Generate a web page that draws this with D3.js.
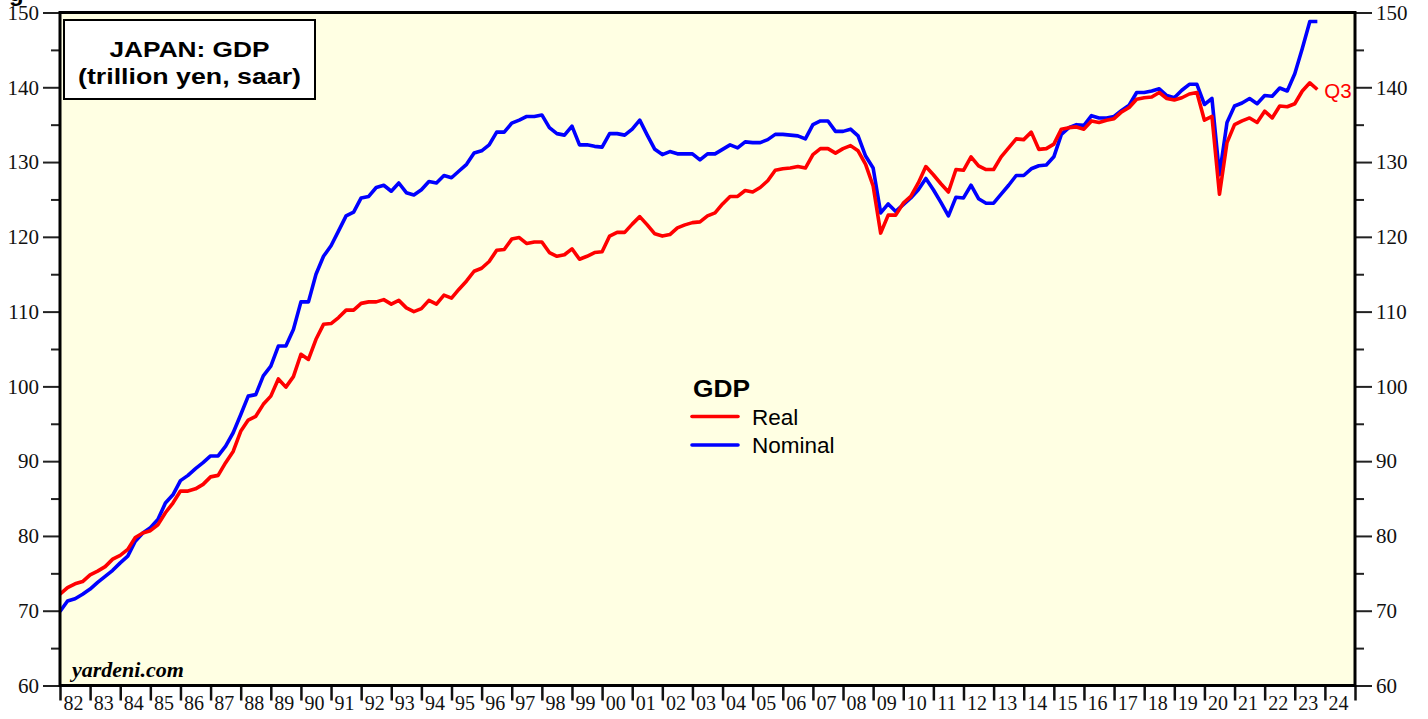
<!DOCTYPE html>
<html lang="en">
<head>
  <meta charset="UTF-8">
  <title>Japan GDP</title>
  <script src="https://d3js.org/d3.v7.min.js"></script>
  <style>
    body { margin: 0; background: #fff; }
  </style>
</head>
<body>
  <svg id="chart" width="1428" height="719"></svg>

  <script>
    // quarterly, first value = 1981 Q4, last = 2023 Q3 (trillion yen, saar)
    const firstYear = 1981
    const firstQuarter = 4
    const lastLabel = "Q3"

    const realGdp = [
      72.2, 73.1, 73.6, 73.9, 74.8, 75.3, 75.9, 76.9, 77.4, 78.2,
      79.8, 80.4, 80.7, 81.5, 83.1, 84.4, 86.0, 86.0, 86.3, 86.9,
      87.9, 88.1, 89.8, 91.3, 94.0, 95.5, 96.0, 97.6, 98.7, 101.0,
      99.9, 101.3, 104.3, 103.6, 106.3, 108.3, 108.4, 109.2, 110.2, 110.2,
      111.1, 111.3, 111.3, 111.6, 111.0, 111.5, 110.5, 110.0, 110.4, 111.5,
      111.0, 112.2, 111.8, 113.0, 114.1, 115.4, 115.8, 116.7, 118.2, 118.3,
      119.7, 119.9, 119.1, 119.3, 119.3, 117.9, 117.4, 117.6, 118.4, 117.0,
      117.4, 117.9, 118.0, 120.1, 120.6, 120.6, 121.7, 122.7, 121.6, 120.4,
      120.1, 120.3, 121.2, 121.6, 121.9, 122.0, 122.8, 123.2, 124.4, 125.4,
      125.4, 126.2, 126.0, 126.6, 127.5, 128.9, 129.1, 129.2, 129.4, 129.2,
      131.0, 131.8, 131.8, 131.2, 131.8, 132.2, 131.5, 129.7, 126.8, 120.5,
      122.9, 122.9, 124.5, 125.4, 127.2, 129.4, 128.3, 127.1, 126.0, 129.0,
      128.9, 130.7, 129.5, 129.0, 129.0, 130.7, 131.9, 133.1, 133.0, 134.0,
      131.7, 131.8, 132.4, 134.4, 134.6, 134.7, 134.4, 135.5, 135.3, 135.6,
      135.8, 136.7, 137.3, 138.4, 138.6, 138.7, 139.3, 138.5, 138.3, 138.6,
      139.1, 139.3, 135.6, 136.1, 125.7, 132.6, 135.0, 135.5, 135.9, 135.3,
      136.8, 135.9, 137.5, 137.4, 137.8, 139.5, 140.6, 139.7
    ]

    const nominalGdp = [
      69.9, 71.3, 71.6, 72.2, 72.9, 73.8, 74.6, 75.4, 76.4, 77.3,
      79.3, 80.4, 81.1, 82.2, 84.4, 85.5, 87.4, 88.1, 89.0, 89.8,
      90.7, 90.7, 92.0, 93.8, 96.2, 98.7, 98.9, 101.4, 102.7, 105.4,
      105.4, 107.6, 111.3, 111.3, 115.0, 117.4, 118.8, 120.8, 122.8, 123.3,
      125.2, 125.4, 126.6, 126.9, 126.1, 127.2, 125.9, 125.6, 126.3, 127.4,
      127.2, 128.2, 127.9, 128.8, 129.7, 131.2, 131.5, 132.3, 134.0, 134.0,
      135.2, 135.6, 136.1, 136.1, 136.3, 134.6, 133.8, 133.6, 134.8, 132.3,
      132.3, 132.1, 132.0, 133.8, 133.8, 133.6, 134.4, 135.6, 133.6, 131.7,
      131.0, 131.4, 131.1, 131.1, 131.1, 130.3, 131.1, 131.1, 131.7, 132.3,
      131.9, 132.7, 132.6, 132.6, 133.0, 133.7, 133.7, 133.6, 133.5, 133.1,
      135.0, 135.5, 135.5, 134.1, 134.1, 134.4, 133.5, 130.8, 129.2, 123.2,
      124.4, 123.4, 124.3, 125.2, 126.3, 127.8, 126.3, 124.6, 122.8, 125.3,
      125.2, 126.9, 125.1, 124.5, 124.5, 125.7, 126.9, 128.2, 128.2, 129.1,
      129.5, 129.6, 130.7, 133.7, 134.6, 135.0, 134.9, 136.2, 135.9, 135.9,
      136.1, 136.9, 137.6, 139.3, 139.3, 139.5, 139.8, 138.9, 138.6, 139.6,
      140.4, 140.4, 137.7, 138.5, 128.3, 135.3, 137.5, 137.9, 138.5, 137.8,
      138.9, 138.8, 139.9, 139.5, 141.8, 145.2, 148.8, 148.8
    ]

    const yearTicks = d3.range(1982, 2026)
    const yMajor = d3.range(60, 151, 10)
    const yMinor = d3.range(65, 150, 10)

    const titleLines = ["JAPAN: GDP", "(trillion yen, saar)"]
    const legendTitle = "GDP"
    const legendItems = [
      { name: "Real", color: "#ff0000", values: realGdp },
      { name: "Nominal", color: "#0000ff", values: nominalGdp }
    ]

    const plot = { left: 60, right: 1355, top: 12.5, bottom: 685.5 }

    const svg = d3.select("#chart")

    const x = d3.scaleLinear().domain([1982, 2025]).range([plot.left, plot.right])
    const y = d3.scaleLinear().domain([60, 150]).range([plot.bottom, plot.top])

    // time of quarter end, as fractional year
    const qTime = i => firstYear + firstQuarter / 4 + i / 4

    svg.append("rect")
      .attr("x", plot.left).attr("y", plot.top)
      .attr("width", plot.right - plot.left).attr("height", plot.bottom - plot.top)
      .attr("fill", "#ffffe3")

    svg.append("clipPath").attr("id", "plotClip")
      .append("rect")
      .attr("x", plot.left).attr("y", plot.top)
      .attr("width", plot.right - plot.left).attr("height", plot.bottom - plot.top)

    // y axes, both sides
    function yAxis(side) {
      const g = svg.append("g")
      const xPos = side === "left" ? plot.left : plot.right
      const make = () => side === "left" ? d3.axisLeft(y) : d3.axisRight(y)
      g.append("g")
        .attr("transform", "translate(" + xPos + ",0)")
        .call(make().tickValues(yMajor).tickSize(17).tickPadding(4).tickFormat(d3.format("d")))
      g.append("g")
        .attr("transform", "translate(" + xPos + ",0)")
        .call(make().tickValues(yMinor).tickSize(9).tickFormat(""))
      g.selectAll(".domain").remove()
      g.selectAll(".tick line").attr("stroke", "#222").attr("stroke-width", 2)
      g.selectAll("text")
        .attr("font-family", "'Liberation Serif', 'Times New Roman', serif")
        .attr("font-size", 21)
        .attr("fill", "#111")
    }
    yAxis("left")
    yAxis("right")

    // x axis: ticks at year boundaries, labels in the middle of each year
    const xTicks = svg.append("g")
      .attr("transform", "translate(0," + plot.bottom + ")")
      .call(d3.axisBottom(x).tickValues(yearTicks).tickSize(15).tickFormat(""))
    xTicks.select(".domain").remove()
    xTicks.selectAll(".tick line").attr("stroke", "#111").attr("stroke-width", 2.5)

    const xLabels = svg.append("g")
      .attr("transform", "translate(-2," + plot.bottom + ")")
      .call(d3.axisBottom(x)
        .tickValues(yearTicks.slice(0, -1).map(d => d + 0.5))
        .tickSize(0).tickPadding(10)
        .tickFormat(d => String(Math.floor(d) % 100).padStart(2, "0")))
    xLabels.select(".domain").remove()
    xLabels.selectAll("text")
      .attr("font-family", "'Liberation Serif', 'Times New Roman', serif")
      .attr("font-size", 20)
      .attr("fill", "#111")

    // lines
    const line = d3.line()
      .x((d, i) => x(qTime(i)))
      .y(d => y(d))

    const lines = svg.append("g").attr("clip-path", "url(#plotClip)")
    lines.append("path")
      .datum(nominalGdp)
      .attr("fill", "none")
      .attr("stroke", "#0000ff")
      .attr("stroke-width", 3.6)
      .attr("stroke-linejoin", "round")
      .attr("d", line)
    lines.append("path")
      .datum(realGdp)
      .attr("fill", "none")
      .attr("stroke", "#ff0000")
      .attr("stroke-width", 3.6)
      .attr("stroke-linejoin", "round")
      .attr("d", line)

    // last quarter label
    const lastI = realGdp.length - 1
    svg.append("text")
      .attr("x", x(qTime(lastI)) + 7)
      .attr("y", y(realGdp[lastI]) + 8)
      .attr("font-family", "'Liberation Sans', Arial, sans-serif")
      .attr("font-size", 20.5)
      .attr("fill", "#ff0000")
      .text(lastLabel)

    // frame
    svg.append("rect")
      .attr("x", plot.left).attr("y", plot.top)
      .attr("width", plot.right - plot.left).attr("height", plot.bottom - plot.top)
      .attr("fill", "none")
      .attr("stroke", "#000")
      .attr("stroke-width", 3)

    // title box (the original type is a bit wider than Arial, so stretch it)
    svg.append("rect")
      .attr("x", 64).attr("y", 20)
      .attr("width", 251).attr("height", 79)
      .attr("fill", "#fff")
      .attr("stroke", "#000")
      .attr("stroke-width", 2)

    const title = svg.append("text")
      .attr("text-anchor", "middle")
      .attr("font-family", "'Liberation Sans', Arial, sans-serif")
      .attr("font-weight", "bold")
      .attr("font-size", 22.5)
      .attr("fill", "#000")
    title.append("tspan").attr("x", 189.5).attr("y", 57)
      .attr("textLength", 160).attr("lengthAdjust", "spacingAndGlyphs")
      .text(titleLines[0])
    title.append("tspan").attr("x", 189.5).attr("y", 84)
      .attr("textLength", 223).attr("lengthAdjust", "spacingAndGlyphs")
      .text(titleLines[1])

    // cut-off text at the very top left
    svg.append("text")
      .attr("x", 9).attr("y", 1)
      .attr("font-family", "'Liberation Sans', Arial, sans-serif")
      .attr("font-weight", "bold")
      .attr("font-size", 24)
      .text("g")

    // legend
    const legend = svg.append("g").attr("transform", "translate(692,0)")
    legend.append("text")
      .attr("x", 1).attr("y", 397)
      .attr("font-family", "'Liberation Sans', Arial, sans-serif")
      .attr("font-weight", "bold")
      .attr("font-size", 23)
      .attr("textLength", 57).attr("lengthAdjust", "spacingAndGlyphs")
      .text(legendTitle)

    legendItems.forEach((item, i) => {
      const ly = 416.5 + i * 28.5
      legend.append("line")
        .attr("x1", 0).attr("x2", 46)
        .attr("y1", ly).attr("y2", ly)
        .attr("stroke", item.color)
        .attr("stroke-width", 3.6)
        .attr("stroke-linecap", "round")
      legend.append("text")
        .attr("x", 60).attr("y", ly + 8)
        .attr("font-family", "'Liberation Sans', Arial, sans-serif")
        .attr("font-size", 22.5)
        .text(item.name)
    })

    svg.append("text")
      .attr("x", 72).attr("y", 677)
      .attr("font-family", "'Liberation Serif', 'Times New Roman', serif")
      .attr("font-weight", "bold")
      .attr("font-style", "italic")
      .attr("font-size", 22)
      .text("yardeni.com")
  </script>
</body>
</html>
